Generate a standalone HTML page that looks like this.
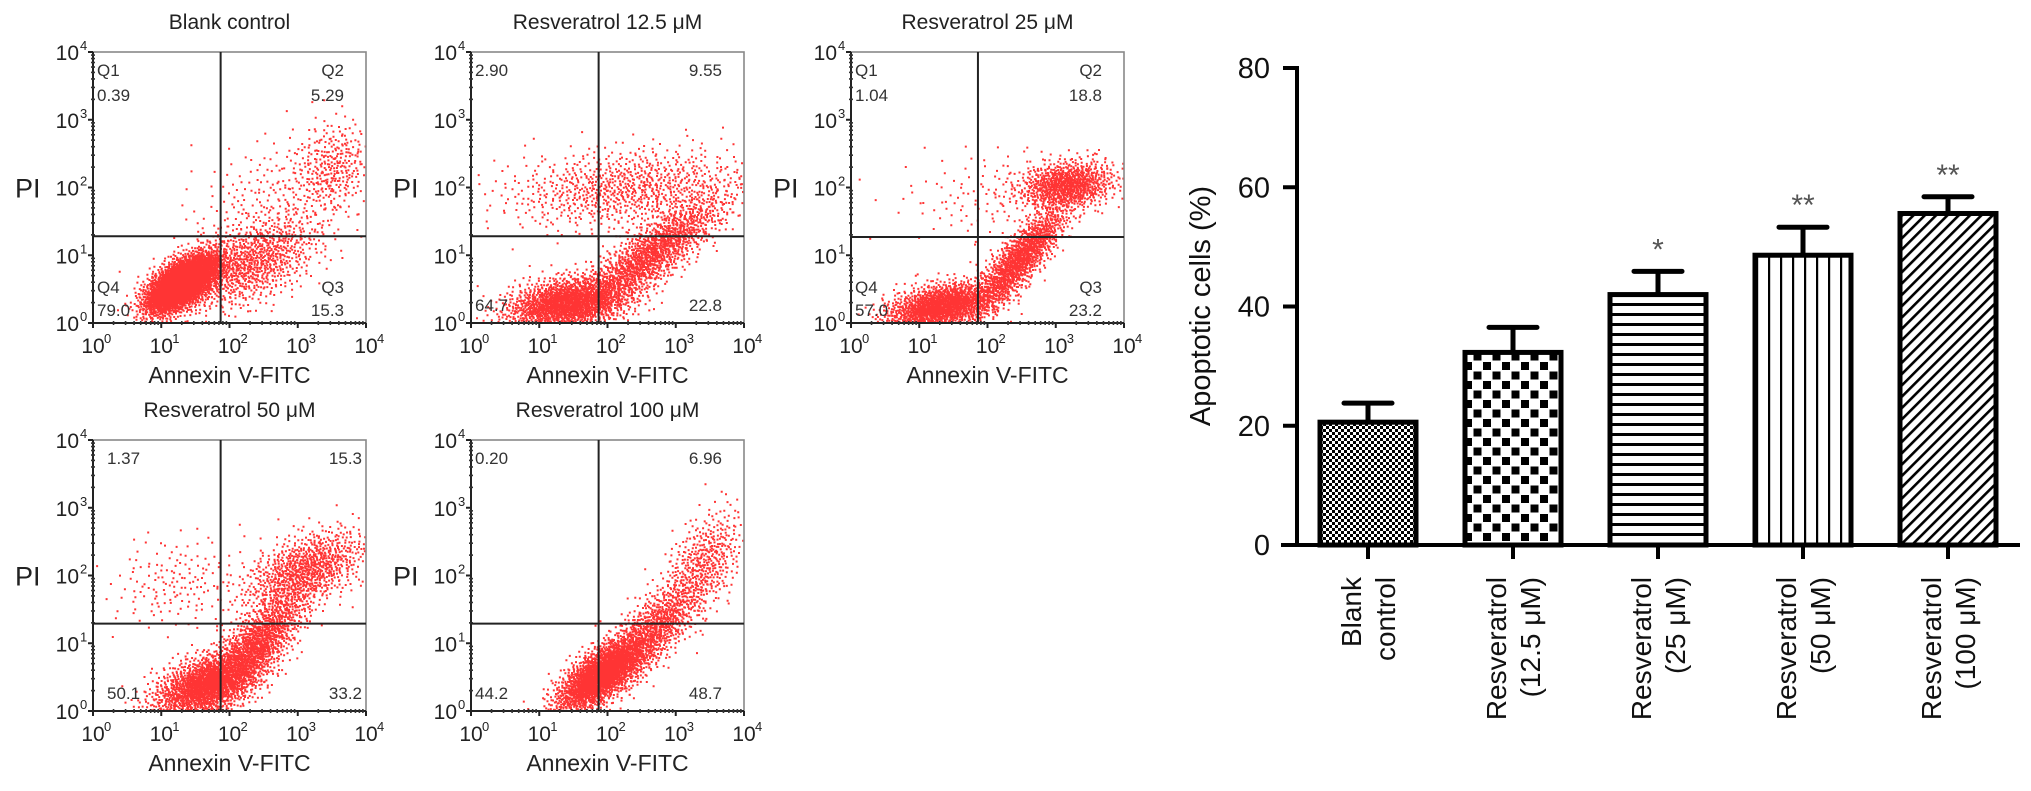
<!DOCTYPE html>
<html><head><meta charset="utf-8"><style>
html,body{margin:0;padding:0;background:#fff;}
svg{display:block;font-family:"Liberation Sans",Arial,sans-serif;}
</style></head><body>
<svg id="fig" width="2031" height="791" viewBox="0 0 2031 791" xmlns="http://www.w3.org/2000/svg">
<defs>
<pattern id="pFine" width="6" height="6" patternUnits="userSpaceOnUse"><rect width="6" height="6" fill="#fff"/><rect x="0" y="0" width="3" height="3" fill="#000"/><rect x="3" y="3" width="3" height="3" fill="#000"/></pattern>
<pattern id="pCheck" width="19" height="19" patternUnits="userSpaceOnUse"><rect width="19" height="19" fill="#fff"/><rect x="1" y="1" width="8" height="8" fill="#000"/><rect x="10.5" y="10.5" width="8" height="8" fill="#000"/></pattern>
<pattern id="pHoriz" width="10" height="10" patternUnits="userSpaceOnUse"><rect width="10" height="10" fill="#fff"/><rect x="0" y="3" width="10" height="3" fill="#000"/></pattern>
<pattern id="pVert" width="12" height="12" patternUnits="userSpaceOnUse"><rect width="12" height="12" fill="#fff"/><rect x="4" y="0" width="2.2" height="12" fill="#000"/></pattern>
<pattern id="pDiag" width="8" height="8" patternUnits="userSpaceOnUse" patternTransform="rotate(45)"><rect width="8" height="8" fill="#fff"/><rect x="0" y="0" width="2.6" height="8" fill="#000"/></pattern>
</defs>
<g id="flows"></g>
<g id="bars"></g>
</svg>
<script>
const NS='http://www.w3.org/2000/svg';
function mk(tag,attrs,parent){const e=document.createElementNS(NS,tag);for(const k in attrs)e.setAttribute(k,attrs[k]);if(parent)parent.appendChild(e);return e;}

// ---------- Flow cytometry data ----------
const flowTitles=['Blank control','Resveratrol 12.5 \u03bcM','Resveratrol 25 \u03bcM','Resveratrol 50 \u03bcM','Resveratrol 100 \u03bcM'];
const quadNames=[['Q1','Q2','Q3','Q4'],['','','',''],['Q1','Q2','Q3','Q4'],['','','',''],['','','','']];
const quadQ1=['0.39','2.90','1.04','1.37','0.20'];
const quadQ2=['5.29','9.55','18.8','15.3','6.96'];
const quadQ3=['15.3','22.8','23.2','33.2','48.7'];
const quadQ4=['79.0','64.7','57.0','50.1','44.2'];
const decadeLabels=['0','1','2','3','4'];
// gate positions in decades
const gateX=[1.87,1.87,1.86,1.87,1.87];
const gateY=[1.28,1.28,1.27,1.29,1.29];
// clusters: [centerX(log), centerY(log), sdX, sdY, corr, count]
const clusters0=[[1.3,0.6,0.27,0.22,0.6,3400],[2.3,0.9,0.5,0.35,0.5,900],[3.5,2.3,0.3,0.35,0.2,320],[2.6,1.8,0.6,0.5,0.3,220]];
const clusters1=[[1.4,0.3,0.45,0.2,0.3,1700],[2.6,1.0,0.55,0.45,0.85,1500],[2.3,2.0,0.9,0.3,0.2,900]];
const clusters2=[[1.3,0.25,0.4,0.18,0.4,1600],[2.45,0.95,0.35,0.4,0.85,1300],[3.15,2.05,0.35,0.18,0.2,900],[2.0,1.9,0.7,0.35,0.2,120]];
const clusters3=[[1.65,0.4,0.4,0.25,0.5,1700],[2.35,0.95,0.4,0.45,0.8,1400],[3.1,2.1,0.45,0.3,0.5,900],[1.2,1.9,0.5,0.35,0.1,160]];
const clusters4=[[1.9,0.55,0.33,0.28,0.7,2200],[2.65,1.2,0.38,0.4,0.75,900],[3.4,2.2,0.3,0.4,0.5,450]];
const flowClusters=[clusters0,clusters1,clusters2,clusters3,clusters4];

const flowBoxes=[[93,52],[471,52],[851,52],[93,440],[471,440]];
const BW=273,BH=271;

function halton(i,b){let f=1,r=0;while(i>0){f/=b;r+=f*(i%b);i=Math.floor(i/b);}return r;}

const flowsG=document.getElementById('flows');
flowBoxes.forEach((b,pi)=>{
  const [L,T]=b;
  const g=mk('g',{},flowsG);
  
  
  const sx=v=>L+v/4*BW, sy=v=>T+BH-v/4*BH;
  const t=mk('text',{x:L+BW/2,y:T-23,'text-anchor':'middle','font-size':21,fill:'#222'},g);
  t.textContent=flowTitles[pi];
  
  
  let d='';let idx=1+pi*7919;
  flowClusters[pi].forEach(c=>{
    const [cx,cy,sdx,sdy,rho,n]=c;
    for(let k=0;k<n;k++,idx++){
      const u1=Math.max(1e-6,halton(idx,2)),u2=halton(idx,3);
      const r=Math.sqrt(-2*Math.log(u1));
      const z1=r*Math.cos(2*Math.PI*u2),z2=r*Math.sin(2*Math.PI*u2);
      let x=cx+sdx*z1, y=cy+sdy*(rho*z1+Math.sqrt(1-rho*rho)*z2);
      if(x<0.02||x>3.98||y<0.02||y>3.98)continue;
      d+='M'+sx(x).toFixed(1)+' '+sy(y).toFixed(1)+'h2v2h-2z';
    }
  });
  const pts=mk('path',{d:d,fill:'#ff1010',opacity:0.85},g);
  
  
  const box=mk('rect',{x:L,y:T,width:BW,height:BH,fill:'none',stroke:'#888','stroke-width':1.6},g);
  
  
  mk('line',{x1:L,y1:T,x2:L,y2:T+BH,stroke:'#222','stroke-width':2},g);
  mk('line',{x1:L,y1:T+BH,x2:L+BW,y2:T+BH,stroke:'#222','stroke-width':2},g);
  for(let dec=0;dec<4;dec++){
    for(let m=2;m<10;m++){
      const v=dec+Math.log10(m);
      mk('line',{x1:L-2,y1:sy(v),x2:L+2,y2:sy(v),stroke:'#333','stroke-width':1.6},g);
      mk('line',{x1:sx(v),y1:T+BH-2,x2:sx(v),y2:T+BH+2,stroke:'#333','stroke-width':1.6},g);
    }
  }
  for(let dec=0;dec<=4;dec++){
    mk('line',{x1:L-5,y1:sy(dec),x2:L,y2:sy(dec),stroke:'#222','stroke-width':2},g);
    mk('line',{x1:sx(dec),y1:T+BH,x2:sx(dec),y2:T+BH+5,stroke:'#222','stroke-width':2},g);
    const yl=mk('text',{x:L-14,y:sy(dec)+8,'text-anchor':'end','font-size':21,fill:'#222'},g);
    yl.textContent='10';
    
    
    const ys=mk('text',{x:L-13,y:sy(dec)-2,'font-size':13,fill:'#222'},g);ys.textContent=decadeLabels[dec];
    const xl=mk('text',{x:sx(dec),y:T+BH+30,'text-anchor':'middle','font-size':21,fill:'#222'},g);
    xl.textContent='10';
    
    
    const xs=mk('text',{x:sx(dec)+11,y:T+BH+20,'font-size':13,fill:'#222'},g);xs.textContent=decadeLabels[dec];
  }
  const gv=mk('line',{x1:sx(gateX[pi]),y1:T,x2:sx(gateX[pi]),y2:T+BH,stroke:'#222','stroke-width':2},g);
  
  
  const gh=mk('line',{x1:L,y1:sy(gateY[pi]),x2:L+BW,y2:sy(gateY[pi]),stroke:'#222','stroke-width':2},g);
  
  
  const xa=mk('text',{x:L+BW/2,y:T+BH+60,'text-anchor':'middle','font-size':23,fill:'#222'},g);
  xa.textContent='Annexin V-FITC';
  
  
  const ya=mk('text',{x:L-78,y:sy(2)+10,'font-size':27,fill:'#222'},g);
  ya.textContent='PI';
  
  
  const qn=quadNames[pi];const off=pi===3?14:4;
  const add=(txt,x,y,anchor,name)=>{if(!txt)return;const e=mk('text',{x:x,y:y,'text-anchor':anchor,'font-size':17,fill:'#333'},g);e.textContent=txt;};
  const hasQ=qn[0]!=='';
  add(qn[0],L+4,T+24,'start','quadrant-name');
  add(qn[1],L+BW-22,T+24,'end','quadrant-name');
  add(qn[3],L+4,T+BH-30,'start','quadrant-name');
  add(qn[2],L+BW-22,T+BH-30,'end','quadrant-name');
  add(quadQ1[pi],L+off,hasQ?T+49:T+24,'start','q1-percent');
  add(quadQ2[pi],L+BW-(pi===3?4:22),hasQ?T+49:T+24,'end','q2-percent');
  add(quadQ4[pi],L+off,T+BH-(hasQ?7:12),'start','q4-percent');
  add(quadQ3[pi],L+BW-(pi===3?4:22),T+BH-(hasQ?7:12),'end','q3-percent');
});

// ---------- Bar chart data ----------
const categories1=['Blank','Resveratrol','Resveratrol','Resveratrol','Resveratrol'];
const categories2=['control','(12.5 \u03bcM)','(25 \u03bcM)','(50 \u03bcM)','(100 \u03bcM)'];
const means=[20.6,32.3,42.0,48.6,55.6];
const errors=[3.2,4.2,3.9,4.7,2.8];
const stars=['','','*','**','**'];
const yTicks=[0,20,40,60,80];
const fills=['url(#pFine)','url(#pCheck)','url(#pHoriz)','url(#pVert)','url(#pDiag)'];

const bg=document.getElementById('bars');
const AX=1297, Y0=545, PER=(545-68)/80;
const yS=v=>Y0-v*PER;
const xS=i=>1368+i*145;
const BARW=96;
const yAxis=mk('line',{x1:AX,y1:yS(80)-2,x2:AX,y2:Y0+2,stroke:'#000','stroke-width':4},bg);


yTicks.forEach(v=>{
  mk('line',{x1:AX-14,y1:yS(v),x2:AX,y2:yS(v),stroke:'#000','stroke-width':4},bg);
  const t=mk('text',{x:AX-27,y:yS(v)+10,'text-anchor':'end','font-size':29,fill:'#111'},bg);
  t.textContent=v;
  
  
});
const yt=mk('text',{transform:'translate(1210,306) rotate(-90)','text-anchor':'middle','font-size':29,fill:'#111'},bg);
yt.textContent='Apoptotic cells (%)';


means.forEach((m,i)=>{
  const cx=xS(i);
  const r=mk('rect',{x:cx-BARW/2,y:yS(m),width:BARW,height:Y0-yS(m),fill:fills[i],stroke:'#000','stroke-width':5},bg);
  
  
  const top=yS(m+errors[i]);
  const eb=mk('path',{d:'M'+cx+' '+(yS(m)-2)+'V'+top+'M'+(cx-24)+' '+top+'H'+(cx+24),stroke:'#000','stroke-width':5,'stroke-linecap':'round',fill:'none'},bg);
  
  
  if(stars[i]){
    const s=mk('text',{x:cx,y:top-12,'text-anchor':'middle','font-size':30,fill:'#555'},bg);
    s.textContent=stars[i];
    
    
  }
  mk('line',{x1:cx,y1:Y0,x2:cx,y2:Y0+14,stroke:'#000','stroke-width':4},bg);
  const lab=mk('text',{transform:'translate('+(cx-7)+',577) rotate(-90)','text-anchor':'end','font-size':28,fill:'#111'},bg);
  const s1=mk('tspan',{x:0,dy:0},lab);s1.textContent=categories1[i];
  const s2=mk('tspan',{x:0,dy:34},lab);s2.textContent=categories2[i];
  
  
});
const xAxis=mk('line',{x1:1281,y1:Y0,x2:2020,y2:Y0,stroke:'#000','stroke-width':4},bg);


</script>
</body></html>
